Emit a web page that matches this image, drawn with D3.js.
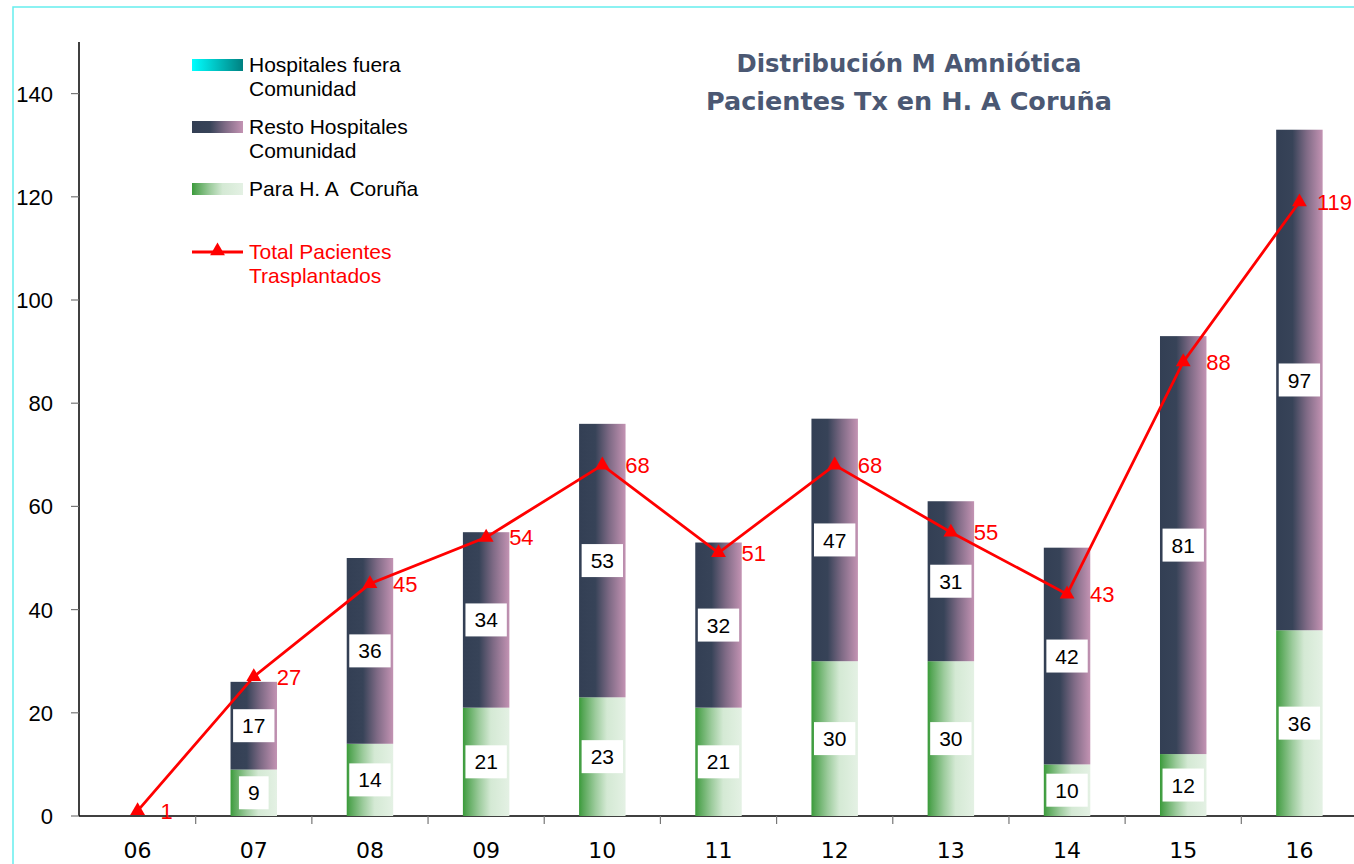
<!DOCTYPE html>
<html>
<head>
<meta charset="utf-8">
<script src="https://cdn.jsdelivr.net/npm/d3@7"></script>
<style>
  html, body { margin: 0; padding: 0; background: #fff; }
  svg { display: block; }
  text { white-space: pre; }
</style>
</head>
<body>
<script>
// ---- data ----
const categories = ["06","07","08","09","10","11","12","13","14","15","16"];
const fueraComunidad = [0,0,0,0,0,0,0,0,0,0,0];
const restoHospitales = [0,17,36,34,53,32,47,31,42,81,97];
const paraCoruna = [0,9,14,21,23,21,30,30,10,12,36];
const totalTrasplantados = [1,27,45,54,68,51,68,55,43,88,119];
const yTicks = [0,20,40,60,80,100,120,140];
const titleLines = ["Distribución M Amniótica", "Pacientes Tx en H. A Coruña"];
const legendItems = [
  {lines: ["Hospitales fuera", "Comunidad"], type: "fuera"},
  {lines: ["Resto Hospitales", "Comunidad"], type: "resto"},
  {lines: ["Para H. A  Coruña"], type: "para"},
  {lines: ["Total Pacientes", "Trasplantados"], type: "line"}
];

const W = 1354, H = 864;
const svg = d3.select("body").append("svg").attr("width", W).attr("height", H);
const defs = svg.append("defs");

function grad(id, stops) {
  const g = defs.append("linearGradient").attr("id", id)
    .attr("x1", "0%").attr("x2", "100%").attr("y1", "0%").attr("y2", "0%");
  stops.forEach(s => g.append("stop").attr("offset", s[0]).attr("stop-color", s[1]));
}
grad("gGreen", [["0%", "#399b39"], ["8%", "#55a655"], ["35%", "#9ccb9c"], ["60%", "#d4e9d4"], ["100%", "#e4f1e4"]]);
grad("gDark", [["0%", "#333f54"], ["35%", "#374358"], ["65%", "#7e6a85"], ["100%", "#c393b3"]]);
grad("gCyan", [["0%", "#00ffff"], ["100%", "#008080"]]);

// frame
svg.append("rect").attr("x", 13).attr("y", 7).attr("width", W + 20).attr("height", H + 20)
  .attr("fill", "none").attr("stroke", "#66eeee").attr("stroke-width", 1.5);

const x = d3.scaleBand().domain(categories).range([79.5, 1357.5]).padding(0);
const y = d3.scaleLinear().domain([0, 150]).range([816, 42]);
const barW = x.bandwidth() * 0.4;
const fontSans = "'Liberation Sans', Arial, sans-serif";

// y axis
const yAxis = svg.append("g").attr("transform", "translate(79,0)");
yAxis.append("line").attr("x1", 0).attr("x2", 0).attr("y1", y(150)).attr("y2", y(0))
  .attr("stroke", "#000").attr("stroke-width", 1.5);
yTicks.forEach(t => {
  yAxis.append("line").attr("x1", -8).attr("x2", 0).attr("y1", y(t)).attr("y2", y(t))
    .attr("stroke", "#777").attr("stroke-width", 1.2);
  yAxis.append("text").attr("x", -26).attr("y", y(t)).attr("dy", "0.36em")
    .attr("text-anchor", "end").attr("font-family", fontSans).attr("font-size", 22)
    .attr("fill", "#000").text(t);
});

// x axis
svg.append("line").attr("x1", 79).attr("x2", W).attr("y1", y(0)).attr("y2", y(0))
  .attr("stroke", "#000").attr("stroke-width", 1.5);
categories.forEach((c, i) => {
  if (i > 0) {
    svg.append("line").attr("x1", x(c)).attr("x2", x(c)).attr("y1", y(0)).attr("y2", y(0) + 8)
      .attr("stroke", "#777").attr("stroke-width", 1.2);
  }
  svg.append("text").attr("x", x(c) + x.bandwidth() / 2).attr("y", 858)
    .attr("text-anchor", "middle").attr("font-family", "'DejaVu Sans', sans-serif")
    .attr("font-size", 22).attr("fill", "#000").text(c);
});

// bars
const stackData = categories.map((c, i) => ({c, para: paraCoruna[i], resto: restoHospitales[i], fuera: fueraComunidad[i]}));
const bars = svg.append("g");
stackData.forEach(d => {
  const bx = x(d.c) + (x.bandwidth() - barW) / 2;
  if (d.para > 0) bars.append("rect").attr("x", bx).attr("width", barW)
    .attr("y", y(d.para)).attr("height", y(0) - y(d.para)).attr("fill", "url(#gGreen)");
  if (d.resto > 0) bars.append("rect").attr("x", bx).attr("width", barW)
    .attr("y", y(d.para + d.resto)).attr("height", y(d.para) - y(d.para + d.resto)).attr("fill", "url(#gDark)");
  if (d.fuera > 0) bars.append("rect").attr("x", bx).attr("width", barW)
    .attr("y", y(d.para + d.resto + d.fuera)).attr("height", y(d.para + d.resto) - y(d.para + d.resto + d.fuera)).attr("fill", "url(#gCyan)");
});

// line
const cx = c => x(c) + x.bandwidth() / 2;
const lineGen = d3.line().x((d, i) => cx(categories[i])).y(d => y(d));
svg.append("path").datum(totalTrasplantados).attr("d", lineGen)
  .attr("fill", "none").attr("stroke", "#ff0000").attr("stroke-width", 2.8);
const tri = d3.symbol().type(d3.symbolTriangle).size(95);
totalTrasplantados.forEach((v, i) => {
  svg.append("path").attr("d", tri()).attr("transform", `translate(${cx(categories[i])},${y(v)})`)
    .attr("fill", "#ff0000");
});
totalTrasplantados.forEach((v, i) => {
  const t = svg.append("text").attr("x", cx(categories[i]) + 23).attr("y", y(v)).attr("dy", "0.36em")
    .attr("font-family", fontSans).attr("font-size", 22).attr("fill", "#ff0000").text(v);
  const w = t.node().getComputedTextLength();
  const maxX = W - 2 - w;
  if (+t.attr("x") > maxX) t.attr("x", maxX);
});

// value boxes
function valueBox(cxp, cyp, v) {
  const g = svg.append("g");
  const t = g.append("text").attr("x", cxp).attr("y", cyp).attr("dy", "0.36em")
    .attr("text-anchor", "middle").attr("font-family", fontSans).attr("font-size", 21)
    .attr("fill", "#000").text(v);
  const w = t.node().getComputedTextLength() + 18;
  g.insert("rect", "text").attr("x", cxp - w / 2).attr("y", cyp - 16.5).attr("width", w).attr("height", 33)
    .attr("fill", "#fff");
}
stackData.forEach(d => {
  const c = cx(d.c);
  if (d.para > 0) valueBox(c, (y(0) + y(d.para)) / 2, d.para);
  if (d.resto > 0) valueBox(c, (y(d.para) + y(d.para + d.resto)) / 2, d.resto);
});

// legend
const legendY = [59, 121, 183, 246];
legendItems.forEach((it, i) => {
  const ly = legendY[i];
  if (it.type === "line") {
    svg.append("line").attr("x1", 192).attr("x2", 243).attr("y1", ly + 6).attr("y2", ly + 6)
      .attr("stroke", "#ff0000").attr("stroke-width", 2.8);
    svg.append("path").attr("d", tri()).attr("transform", `translate(217.5,${ly + 5})`).attr("fill", "#ff0000");
  } else {
    const fill = it.type === "fuera" ? "url(#gCyan)" : it.type === "resto" ? "url(#gDark)" : "url(#gGreen)";
    svg.append("rect").attr("x", 192).attr("y", ly).attr("width", 51).attr("height", 12).attr("fill", fill);
  }
  it.lines.forEach((ln, j) => {
    svg.append("text").attr("x", 249).attr("y", ly + 13 + j * 23.5)
      .attr("font-family", fontSans).attr("font-size", 21)
      .attr("fill", it.type === "line" ? "#ff0000" : "#000").text(ln);
  });
});

// title
const titleWidths = [345, 406];
titleLines.forEach((t, i) => {
  svg.append("text").attr("x", 909).attr("y", 72 + i * 38).attr("text-anchor", "middle")
    .attr("font-family", "'DejaVu Sans', sans-serif").attr("font-weight", "bold").attr("font-size", 24)
    .attr("fill", "#4b5873").attr("textLength", titleWidths[i]).attr("lengthAdjust", "spacingAndGlyphs")
    .text(t);
});
</script>
</body>
</html>
